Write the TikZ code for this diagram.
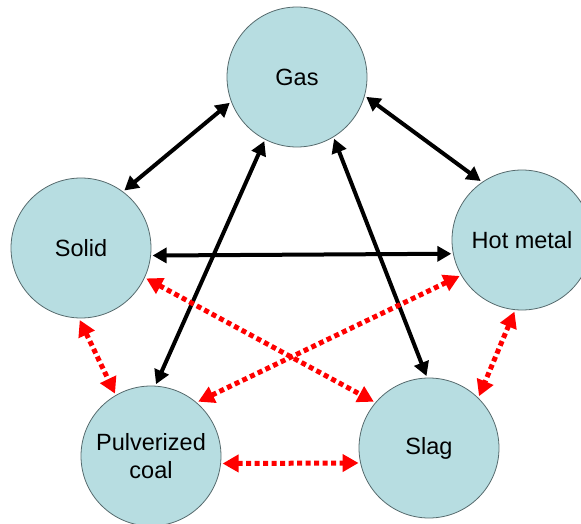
\documentclass[tikz,border=0pt]{standalone}
\usepackage{fontspec}
\setmainfont{Liberation Sans}
\usetikzlibrary{arrows.meta,calc}
\definecolor{cfill}{RGB}{183,221,225}
\definecolor{cdraw}{RGB}{85,105,108}
\definecolor{cred}{RGB}{255,0,0}
\tikzset{
  phase/.style={circle,fill=cfill,draw=cdraw,line width=0.8pt,minimum size=140pt,inner sep=0pt,outer sep=2pt,
    font=\fontsize{23.5}{28}\selectfont,align=center},
  blk/.style={line width=4pt,black,{Triangle[length=14pt,width=15pt]}-{Triangle[length=14pt,width=15pt]}},
  rd/.style={line width=5pt,cred,dash pattern=on 5pt off 3.5pt,
    {Triangle[length=16pt,width=17pt]}-{Triangle[length=16pt,width=17pt]}}
}
\begin{document}
\begin{tikzpicture}[x=1pt,y=-1pt]
\useasboundingbox (0,0) rectangle (581,524);
\node[phase] (gas) at (297,77) {Gas};
\node[phase] (solid) at (81,248) {Solid};
\node[phase] (hm) at (522,240) {Hot metal};
\node[phase] (pc) at (151,456) {Pulverized\\coal};
\node[phase] (slag) at (429,448) {Slag};
% black
\draw[blk] (gas.201.7) -- (solid.53);
\draw[blk] (gas.344) -- (hm.125);
\draw[blk] (gas.243.4) -- (pc.86);
\draw[blk] (gas.301.5) -- (slag.92.5);
\draw[blk] (solid.354) -- (hm.191.8);
% red
\draw[rd] (solid.335.6) -- (slag.140);
\draw[rd] (hm.210.4) -- (pc.49);
\draw[rd] (solid.269) -- (pc.120.8);
\draw[rd] (hm.264.5) -- (slag.46);
\draw[rd] (pc.354.3) -- (slag.192);
\end{tikzpicture}
\end{document}
